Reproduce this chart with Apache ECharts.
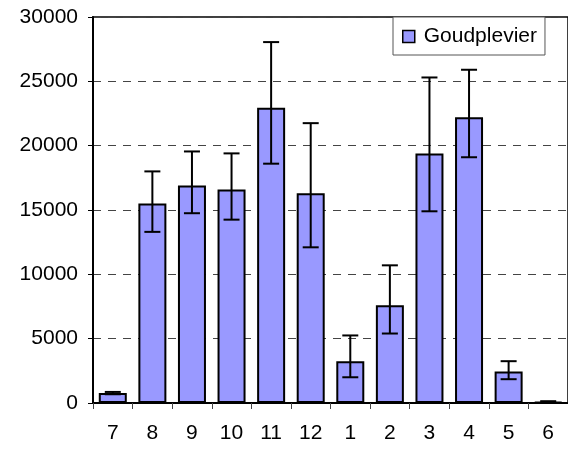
<!DOCTYPE html>
<html>
<head>
<meta charset="utf-8">
<script src="https://cdn.jsdelivr.net/npm/echarts@6/dist/echarts.min.js"></script>
<style>
html,body{margin:0;padding:0;background:#fff;}
#chart{width:568px;height:449px;}
</style>
</head>
<body>
<div id="chart"></div>
<script>
var categories = ['7','8','9','10','11','12','1','2','3','4','5','6'];
var values = [780, 15500, 16900, 16600, 22950, 16300, 3250, 7600, 19400, 22200, 2450, 80];
var errLow = [680, 13300, 14750, 14250, 18600, 12100, 2000, 5400, 14900, 19100, 1850, 30];
var errHigh = [860, 18000, 19550, 19400, 28050, 21750, 5250, 10700, 25300, 25900, 3250, 140];
var seriesName = 'Goudplevier';

var errData = categories.map(function (c, i) { return [i, errLow[i], errHigh[i]]; });
var font = "'Liberation Sans', Arial, sans-serif";

var chart = echarts.init(document.getElementById('chart'), null, {renderer: 'canvas'});
chart.setOption({
  animation: false,
  backgroundColor: '#fff',
  grid: {
    left: 93, top: 17, width: 481, height: 386,
    show: true, borderColor: '#000', borderWidth: 1.5, backgroundColor: 'transparent'
  },
  legend: {
    data: [seriesName],
    left: 393, top: 17,
    padding: [9, 8, 8, 9],
    backgroundColor: '#fff',
    borderColor: '#555', borderWidth: 1,
    icon: 'rect', itemWidth: 12, itemHeight: 12,
    itemStyle: {borderColor: '#000', borderWidth: 1.5},
    textStyle: {fontFamily: font, fontSize: 21, color: '#000', padding: [0, 0, 0, 4]},
    z: 10
  },
  xAxis: {
    type: 'category',
    data: categories,
    axisLine: {lineStyle: {color: '#000', width: 2}},
    axisTick: {show: true, length: 6, lineStyle: {color: '#444', width: 1}},
    axisLabel: {fontFamily: font, fontSize: 21, color: '#000', margin: 20}
  },
  yAxis: {
    type: 'value',
    min: 0, max: 30000, interval: 5000,
    axisLine: {show: true, lineStyle: {color: '#000', width: 2}},
    axisTick: {show: true, length: 5, lineStyle: {color: '#000', width: 1}},
    axisLabel: {fontFamily: font, fontSize: 21, color: '#000', margin: 15,
      formatter: function (v) { return String(v); }},
    splitLine: {show: true, lineStyle: {color: '#444', width: 1, type: [8, 7]}}
  },
  series: [
    {
      name: seriesName,
      type: 'bar',
      data: values,
      barWidth: 28,
      itemStyle: {color: '#9999FF', borderColor: '#000', borderWidth: 2}
    },
    {
      name: 'err',
      type: 'custom',
      data: errData,
      encode: {x: 0, y: [1, 2]},
      z: 5,
      renderItem: function (params, api) {
        var x = api.value(0);
        var lo = api.coord([x, api.value(1)]);
        var hi = api.coord([x, api.value(2)]);
        var half = 8;
        var style = {stroke: '#000', lineWidth: 2};
        return {
          type: 'group',
          children: [
            {type: 'line', shape: {x1: hi[0], y1: hi[1], x2: lo[0], y2: lo[1]}, style: style},
            {type: 'line', shape: {x1: hi[0] - half, y1: hi[1], x2: hi[0] + half, y2: hi[1]}, style: style},
            {type: 'line', shape: {x1: lo[0] - half, y1: lo[1], x2: lo[0] + half, y2: lo[1]}, style: style}
          ]
        };
      }
    }
  ]
});
</script>
</body>
</html>
